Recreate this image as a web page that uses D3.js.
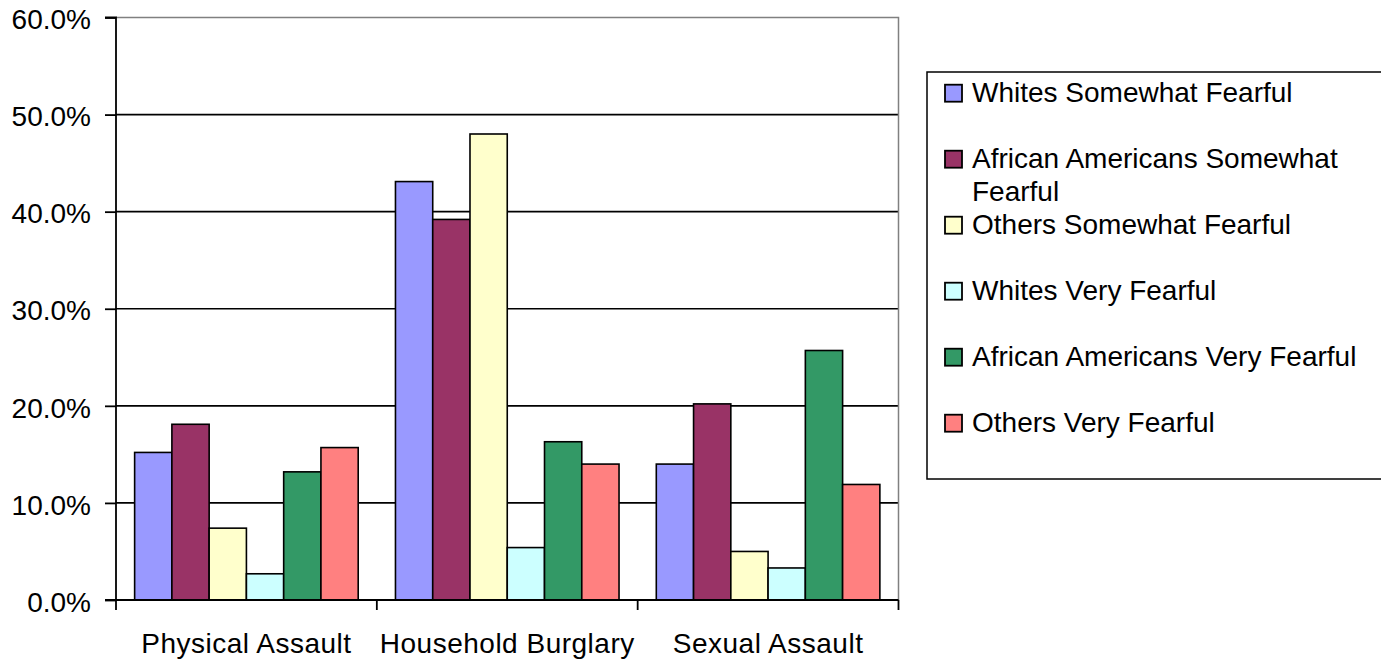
<!DOCTYPE html>
<html>
<head>
<meta charset="utf-8">
<script src="https://cdn.jsdelivr.net/npm/d3@7"></script>
<style>
  html, body { margin: 0; padding: 0; background: #fff; }
  svg { display: block; font-family: "Liberation Sans", Arial, sans-serif; }
</style>
</head>
<body>
<svg id="chart" width="1381" height="662"></svg>
<script>
const categories = ["Physical Assault", "Household Burglary", "Sexual Assault"];
const seriesNames = [
  "Whites Somewhat Fearful",
  "African Americans Somewhat Fearful",
  "Others Somewhat Fearful",
  "Whites Very Fearful",
  "African Americans Very Fearful",
  "Others Very Fearful"
];
const seriesColors = ["#9999FF", "#993366", "#FFFFCC", "#CCFFFF", "#339966", "#FF8080"];
// values per series, in category order (fractions)
const whitesSomewhat = [0.152, 0.431, 0.140];
const africanAmericansSomewhat = [0.181, 0.392, 0.202];
const othersSomewhat = [0.074, 0.480, 0.050];
const whitesVery = [0.027, 0.054, 0.033];
const africanAmericansVery = [0.132, 0.163, 0.257];
const othersVery = [0.157, 0.140, 0.119];
const yTicks = [0, 0.1, 0.2, 0.3, 0.4, 0.5, 0.6];

const seriesValues = [whitesSomewhat, africanAmericansSomewhat, othersSomewhat,
                      whitesVery, africanAmericansVery, othersVery];

(function () {
const svg = d3.select("#chart");
const pLeft = 116, pRight = 898.5, pTop = 17.5, pBottom = 600;

const y = d3.scaleLinear().domain([0, 0.6]).range([pBottom, pTop]);
const x0 = d3.scaleBand().domain(categories).range([pLeft, pRight]).paddingInner(0).paddingOuter(0);
const x1 = d3.scaleBand().domain(seriesNames).range([0, x0.bandwidth()]).paddingInner(0).paddingOuter(0.5);

// gridlines
svg.append("g").selectAll("line")
  .data(yTicks.filter(t => t > 0 && t < 0.6))
  .join("line")
  .attr("x1", pLeft).attr("x2", pRight)
  .attr("y1", d => y(d)).attr("y2", d => y(d))
  .attr("stroke", "#000").attr("stroke-width", 1.6);

// plot area border top/right (gray)
svg.append("path")
  .attr("d", `M${pLeft},${y(0.6)}H${pRight}V${pBottom}`)
  .attr("fill", "none").attr("stroke", "#808080").attr("stroke-width", 1.5);

// bars
const rows = [];
categories.forEach((c, ci) => {
  seriesNames.forEach((s, si) => rows.push({ cat: c, series: s, si, value: seriesValues[si][ci] }));
});
svg.append("g").selectAll("rect")
  .data(rows)
  .join("rect")
  .attr("x", d => x0(d.cat) + x1(d.series))
  .attr("y", d => y(d.value))
  .attr("width", x1.bandwidth())
  .attr("height", d => y(0) - y(d.value))
  .attr("fill", d => seriesColors[d.si])
  .attr("stroke", "#000").attr("stroke-width", 1.6);

// y axis
const yAxis = d3.axisLeft(y).tickValues(yTicks).tickSize(11).tickPadding(14)
  .tickFormat(d3.format(".1%"));
const gy = svg.append("g").attr("transform", `translate(${pLeft},0)`).call(yAxis);
gy.select(".domain").attr("stroke", "#000").attr("stroke-width", 1.8).attr("d", `M-11,${pTop}H0V${pBottom}H-11`);
gy.selectAll(".tick line").attr("stroke", "#000").attr("stroke-width", 1.8);
gy.selectAll(".tick text").attr("font-size", 28).attr("fill", "#000")
  .attr("font-family", "'Liberation Sans', Arial, sans-serif")
  .attr("dy", "0.4em");

// x axis
const xAxis = d3.axisBottom(x0).tickSize(0).tickPadding(33);
const gx = svg.append("g").attr("transform", `translate(0,${pBottom})`).call(xAxis);
gx.select(".domain").attr("stroke", "#000").attr("stroke-width", 1.8).attr("d", `M${pLeft},0H${pRight}`);
gx.selectAll(".tick text").attr("font-size", 28).attr("fill", "#000")
  .attr("letter-spacing", "0.5px")
  .attr("font-family", "'Liberation Sans', Arial, sans-serif");
// category boundary ticks
const bounds = categories.map(c => x0(c)).concat([x0(categories[categories.length - 1]) + x0.bandwidth()]);
gx.append("g").selectAll("line").data(bounds).join("line")
  .attr("x1", d => d).attr("x2", d => d).attr("y1", 0).attr("y2", 10)
  .attr("stroke", "#000").attr("stroke-width", 1.8);

// legend
const lg = svg.append("g");
lg.append("rect").attr("x", 927).attr("y", 72).attr("width", 470).attr("height", 407)
  .attr("fill", "#fff").attr("stroke", "#000").attr("stroke-width", 1.5);
const rowStep = 66, firstBase = 101.7, maxW = 400;
seriesNames.forEach((name, i) => {
  const base = firstBase + i * rowStep;
  lg.append("rect").attr("x", 945).attr("y", base - 17).attr("width", 17).attr("height", 17)
    .attr("fill", seriesColors[i]).attr("stroke", "#000").attr("stroke-width", 1.8);
  const t = lg.append("text").attr("x", 972).attr("y", base)
    .attr("font-size", 28).attr("fill", "#000");
  const words = name.split(" ");
  let line = [], tspan = t.append("tspan").attr("x", 972).attr("y", base), lineNo = 0;
  words.forEach(w => {
    line.push(w);
    tspan.text(line.join(" "));
    if (tspan.node().getComputedTextLength() > maxW && line.length > 1) {
      line.pop();
      tspan.text(line.join(" "));
      line = [w];
      lineNo++;
      tspan = t.append("tspan").attr("x", 972).attr("y", base + lineNo * 33.4).text(w);
    }
  });
});
})();
</script>
</body>
</html>
